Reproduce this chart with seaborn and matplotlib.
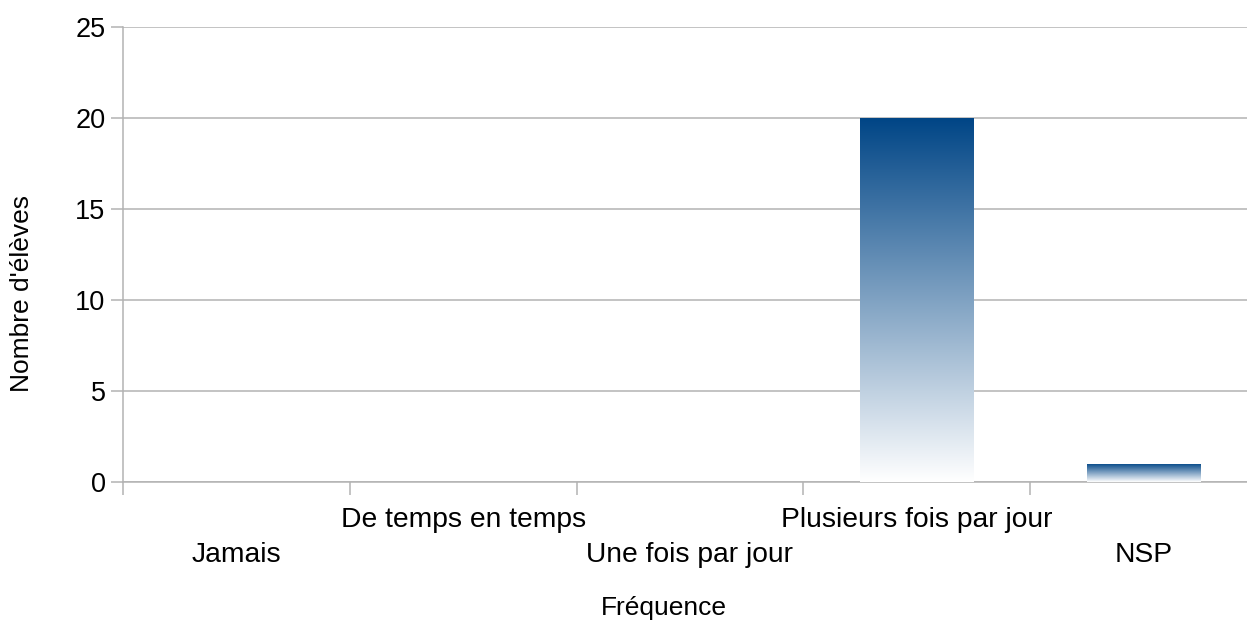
import numpy as np
import pandas as pd
import matplotlib
matplotlib.use('Agg')
import matplotlib.pyplot as plt
import matplotlib.transforms as mtransforms
import seaborn as sns
from matplotlib.colors import LinearSegmentedColormap

# data
categories = ['Jamais', 'De temps en temps', 'Une fois par jour',
              'Plusieurs fois par jour', 'NSP']
counts = [0, 0, 0, 20, 1]

df = pd.DataFrame({'Fréquence': categories, 'Nombre': counts})

sns.set_style('white')
plt.rcParams['font.family'] = ['Liberation Sans', 'DejaVu Sans']
plt.rcParams['text.color'] = 'black'
plt.rcParams['ytick.labelcolor'] = 'black'

fig = plt.figure(figsize=(12.47, 6.24), dpi=100)
# the plot area runs past the right edge of the picture, like the original
ax = fig.add_axes([0.0986, 0.2276, 0.9094, 0.7292])

sns.barplot(data=df, x='Fréquence', y='Nombre', color='#004586',
            width=0.5, ax=ax, zorder=3)

# vertical gradient on each bar: dark blue on top, white at the base
grad_cmap = LinearSegmentedColormap.from_list('lo_grad', ['#ffffff', '#004586'])
grad = np.linspace(0, 1, 256).reshape(-1, 1)
for patch in ax.patches:
    x0, y0 = patch.get_x(), patch.get_y()
    w, h = patch.get_width(), patch.get_height()
    patch.set_facecolor('none')
    patch.set_edgecolor('none')
    if h <= 0:
        continue
    im = ax.imshow(grad, cmap=grad_cmap, aspect='auto', origin='lower',
                   extent=[x0, x0 + w, y0, y0 + h], zorder=3,
                   interpolation='bilinear')
    im.set_clip_path(patch)

n = len(categories)
ax.set_xlim(-0.5, n - 0.5)
ax.set_ylim(0, 25)
ax.set_yticks([0, 5, 10, 15, 20, 25])
ax.tick_params(axis='y', labelsize=19.5, length=8.5, width=1.1, color='#b3b3b3',
               labelcolor='black', pad=4, left=True)
ax.yaxis.grid(True, color='#b3b3b3', linewidth=1.1, zorder=0)
ax.set_axisbelow(True)

# category ticks sit on the boundaries, labels staggered in two rows
ax.set_xticks(np.arange(n + 1) - 0.5)
ax.set_xticklabels([])
ax.tick_params(axis='x', length=9.5, width=1.1, color='#b3b3b3', bottom=True)
trans = mtransforms.blended_transform_factory(ax.transData, fig.transFigure)
for i, cat in enumerate(categories):
    y_pos = 1 - (555 if i % 2 == 0 else 520) / 624
    ax.text(i, y_pos, cat, transform=trans, ha='center', va='center',
            fontsize=20.3, color='black')

for side in ['top', 'right']:
    ax.spines[side].set_visible(False)
for side in ['left', 'bottom']:
    ax.spines[side].set_color('#b3b3b3')
    ax.spines[side].set_linewidth(1.1)

ax.set_xlabel('')
ax.set_ylabel('')
fig.text(0.532, 1 - 608 / 624, 'Fréquence', ha='center', va='center',
         fontsize=19, color='black')
fig.text(22 / 1247, 1 - 294 / 624, "Nombre d'élèves", ha='center', va='center',
         rotation=90, fontsize=19, color='black')

fig.savefig('out.png', dpi=100)
